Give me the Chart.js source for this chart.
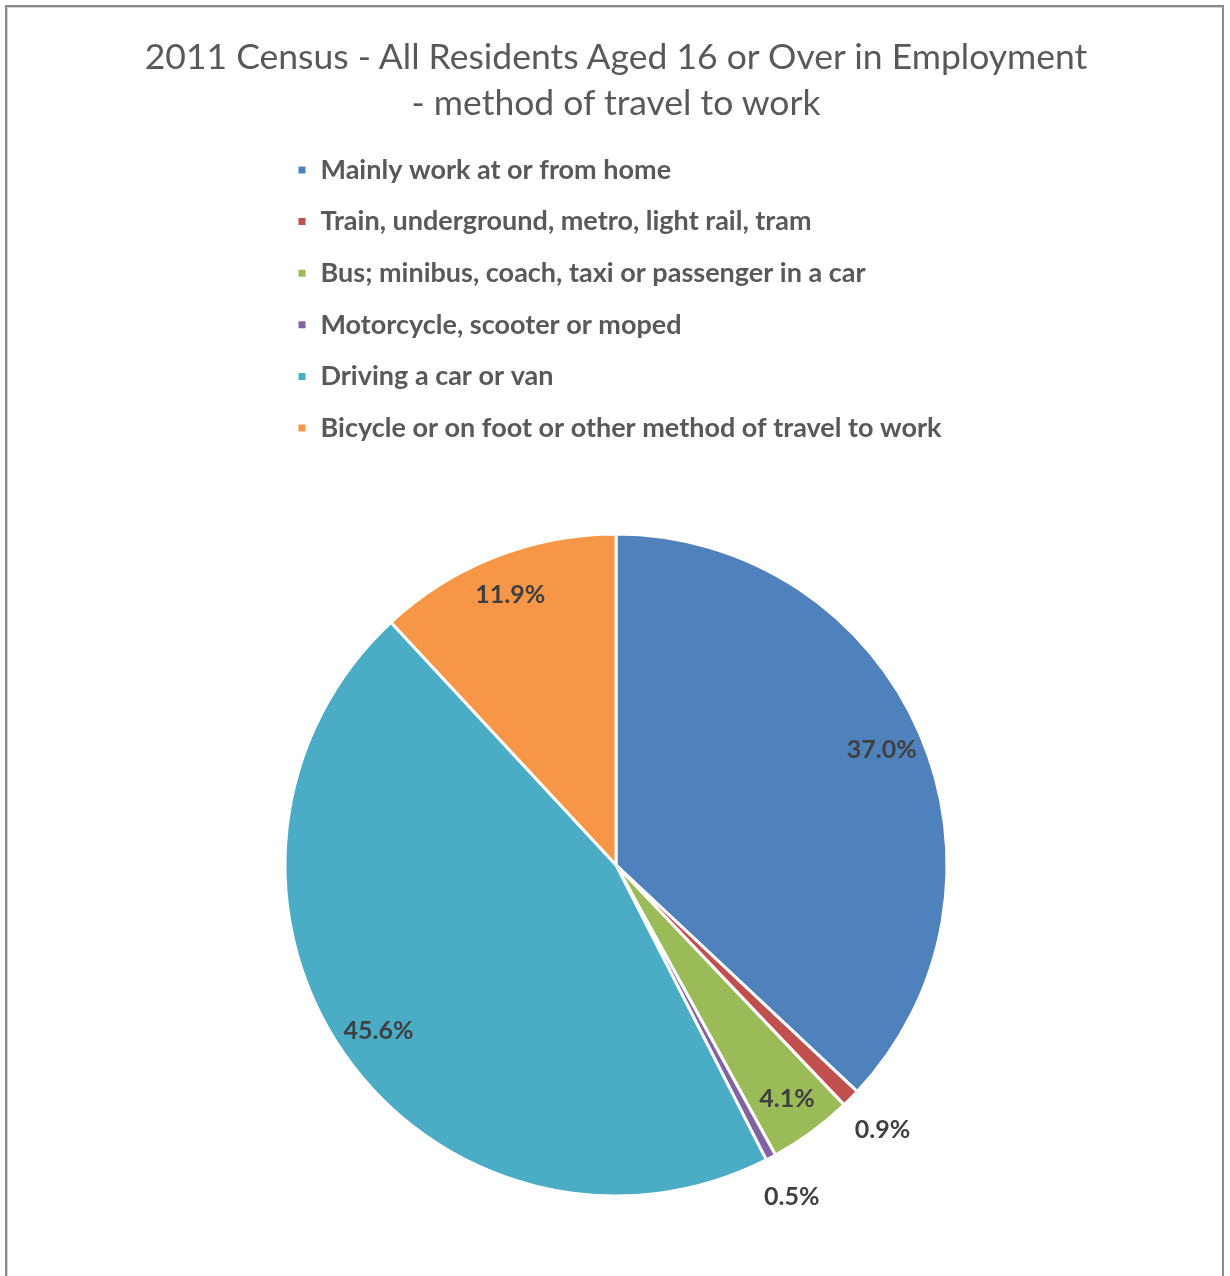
<!DOCTYPE html>
<html>
<head>
<meta charset="utf-8">
<title>Method of travel to work</title>
<script src="https://cdn.jsdelivr.net/npm/chart.js@4.4.1/dist/chart.umd.min.js"></script>
<style>
  html, body { margin: 0; padding: 0; background: #fff; overflow: hidden; }
  #wrap { position: relative; width: 1230px; height: 1276px; overflow: hidden; }
  #travelChart { position: absolute; left: 0; top: 0; }
  #chartTitle {
    position: absolute; left: 0; top: 33px; width: 1232px;
    margin: 0; text-align: center;
    font: normal 35.5px/46px Lato, "Open Sans", sans-serif;
    color: #595959;
  }
  /* grey chart-area frame; bottom edge runs off the page */
  #frame {
    position: absolute; left: 5px; top: 5px; width: 1215px; height: 1320px;
    border: 2px solid #8a8a8a; box-shadow: inset 1px 1px 0 #d4d4d4;
    pointer-events: none;
  }
</style>
</head>
<body>
<div id="wrap">
  <canvas id="travelChart" width="1230" height="1300"></canvas>
  <h1 id="chartTitle"></h1>
  <div id="frame"></div>
</div>
<script>
// 2011 Census, residents 16+ in employment, by method of travel to work (%)
const titleLines = [
  '2011 Census - All Residents Aged 16 or Over in Employment',
  '- method of travel to work'
];
const categories = [
  'Mainly work at or from home',
  'Train, underground, metro, light rail, tram',
  'Bus; minibus, coach, taxi or passenger in a car',
  'Motorcycle, scooter or moped',
  'Driving a car or van',
  'Bicycle or on foot or other method of travel to work'
];
const shares = [37.0, 0.9, 4.1, 0.5, 45.6, 11.9];
const sliceColours = ['#4F81BD', '#C0504D', '#9BBB59', '#8064A2', '#4BACC6', '#F79646'];

const FONT = 'Lato, "Open Sans", sans-serif';

// percentage labels: inside the slice, or just outside for the thin ones
const sliceLabels = {
  id: 'sliceLabels',
  afterDatasetsDraw(chart) {
    const ctx = chart.ctx;
    const meta = chart.getDatasetMeta(0);
    ctx.save();
    ctx.font = 'bold 25px ' + FONT;
    ctx.fillStyle = '#404040';
    ctx.textAlign = 'center';
    ctx.textBaseline = 'middle';
    meta.data.forEach((arc, i) => {
      const p = arc.getProps(['x', 'y', 'startAngle', 'endAngle', 'outerRadius'], true);
      const mid = (p.startAngle + p.endAngle) / 2;
      const dist = shares[i] < 2 ? p.outerRadius * 1.135 : p.outerRadius * 0.875;
      ctx.fillText(shares[i].toFixed(1) + '%', p.x + Math.cos(mid) * dist, p.y + Math.sin(mid) * dist);
    });
    ctx.restore();
  }
};

function renderTravelChart() {
  document.getElementById('chartTitle').innerHTML = titleLines.join('<br>');

  const ctx = document.getElementById('travelChart').getContext('2d');

  new Chart(ctx, {
    type: 'pie',
    data: {
      labels: categories,
      datasets: [{
        data: shares,
        backgroundColor: sliceColours,
        borderColor: '#ffffff',
        borderWidth: 3,
        radius: 331,
        clip: false
      }]
    },
    options: {
      responsive: false,
      animation: false,
      layout: {
        // side padding keeps the legend one item per row and the pie centred
        padding: { left: 272.4, right: 270.4, top: 131.9, bottom: 21.5 }
      },
      plugins: {
        title: { display: false },
        legend: {
          position: 'top',
          align: 'start',
          labels: {
            color: '#595959',
            font: { family: FONT, size: 27, weight: 'bold' },
            boxWidth: 10,
            boxHeight: 10,
            padding: 24.6
          }
        },
        tooltip: { enabled: false }
      }
    },
    plugins: [sliceLabels]
  });
}

if (document.readyState === 'loading') {
  document.addEventListener('DOMContentLoaded', renderTravelChart);
} else {
  renderTravelChart();
}
</script>
</body>
</html>
